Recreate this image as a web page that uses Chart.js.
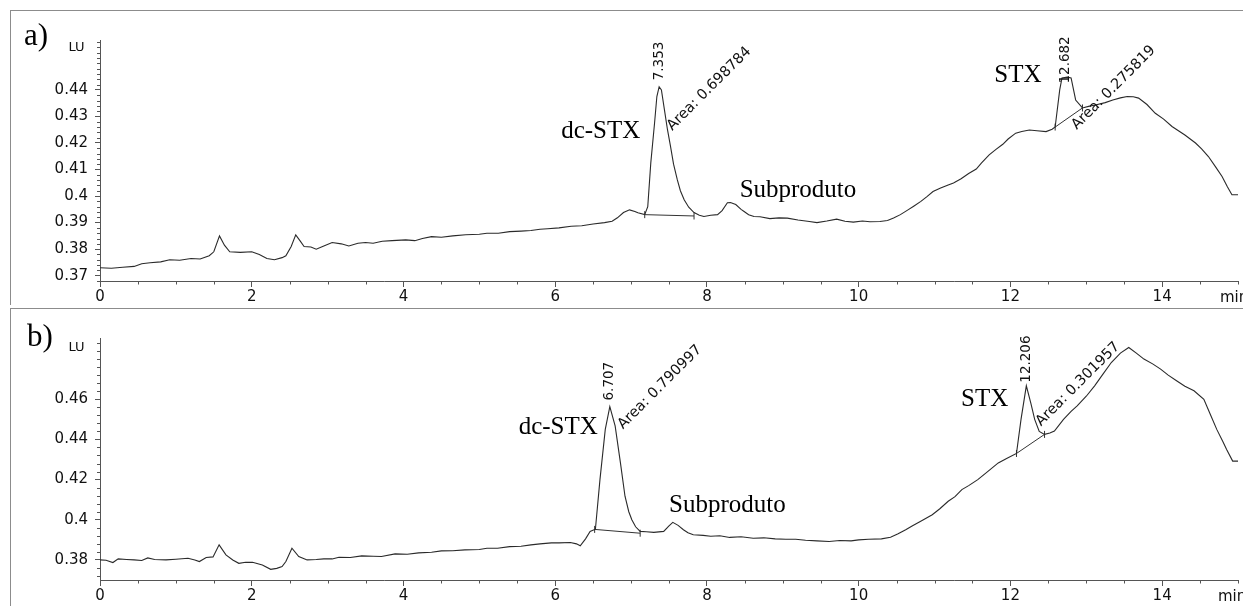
<!DOCTYPE html>
<html><head><meta charset="utf-8">
<script src="https://cdn.jsdelivr.net/npm/chart.js@4.4.1/dist/chart.umd.min.js"></script>
<style>
html,body{margin:0;padding:0;background:#fff;width:1243px;height:606px;overflow:hidden;}
.frame{position:absolute;left:10px;width:1240px;border-left:1px solid #8c8c8c;border-top:1px solid #8c8c8c;}
#frameA{top:10px;height:294px;}
#frameB{top:308px;height:300px;}
canvas{position:absolute;left:0;}
#cA{top:0;}
#cB{top:309px;}
</style></head>
<body>
<div id="frameA" class="frame"></div>
<div id="frameB" class="frame"></div>
<canvas id="cA" width="1243" height="305"></canvas>
<canvas id="cB" width="1243" height="297"></canvas>
<script>
// ---------- data ----------
const xTickLabels = ['0','2','4','6','8','10','12','14'];
const yTickLabelsA = ['0.37','0.38','0.39','0.4','0.41','0.42','0.43','0.44'];
const yTickLabelsB = ['0.38','0.4','0.42','0.44','0.46'];

// chromatogram a)
const timeA = [0.00,0.15,0.30,0.45,0.55,0.66,0.80,0.92,1.05,1.20,1.32,1.44,1.50,1.575,1.64,1.71,1.85,2.00,2.10,2.20,2.30,2.40,2.45,2.52,2.58,2.64,2.69,2.78,2.85,2.95,3.06,3.18,3.28,3.40,3.50,3.60,3.72,3.85,4.03,4.15,4.25,4.37,4.50,4.65,4.82,5.00,5.10,5.25,5.40,5.55,5.68,5.80,5.90,6.05,6.21,6.35,6.50,6.65,6.75,6.82,6.90,6.98,7.05,7.09,7.18,7.22,7.26,7.31,7.34,7.37,7.40,7.44,7.48,7.52,7.56,7.61,7.65,7.70,7.76,7.83,7.90,7.96,8.05,8.14,8.20,8.27,8.31,8.38,8.45,8.49,8.55,8.62,8.70,8.83,8.95,9.06,9.20,9.35,9.45,9.58,9.71,9.82,9.93,10.05,10.15,10.28,10.38,10.46,10.55,10.65,10.72,10.82,10.90,10.98,11.08,11.18,11.25,11.35,11.45,11.55,11.62,11.72,11.81,11.90,11.97,12.07,12.15,12.25,12.35,12.47,12.55,12.59,12.65,12.68,12.75,12.80,12.86,12.95,13.03,13.12,13.25,13.35,13.45,13.54,13.62,13.69,13.80,13.91,14.02,14.13,14.30,14.44,14.52,14.61,14.70,14.79,14.86,14.92,15.00];
const lumA = [0.3730,0.3728,0.3732,0.3735,0.3745,0.3749,0.3752,0.3760,0.3758,0.3765,0.3763,0.3775,0.3790,0.3850,0.3815,0.3790,0.3788,0.3790,0.3780,0.3765,0.3760,0.3768,0.3775,0.3810,0.3854,0.3830,0.3810,0.3808,0.3800,0.3812,0.3825,0.3820,0.3812,0.3822,0.3825,0.3822,0.3830,0.3832,0.3835,0.3832,0.3840,0.3847,0.3845,0.3850,0.3854,0.3856,0.3860,0.3860,0.3866,0.3868,0.3870,0.3875,0.3877,0.3880,0.3886,0.3888,0.3895,0.3900,0.3905,0.3918,0.3938,0.3948,0.3942,0.3937,0.3930,0.3960,0.4125,0.4276,0.4375,0.4412,0.4400,0.4325,0.4250,0.4187,0.4120,0.4061,0.4020,0.3986,0.3958,0.3938,0.3928,0.3923,0.3928,0.3930,0.3945,0.3975,0.3976,0.3968,0.3950,0.3942,0.3930,0.3923,0.3922,0.3915,0.3918,0.3917,0.3910,0.3904,0.3900,0.3906,0.3913,0.3905,0.3902,0.3906,0.3903,0.3904,0.3908,0.3917,0.3930,0.3948,0.3961,0.3980,0.3998,0.4017,0.4030,0.4042,0.4049,0.4065,0.4085,0.4102,0.4125,0.4155,0.4176,0.4195,0.4215,0.4237,0.4243,0.4249,0.4246,0.4243,0.4252,0.4260,0.4400,0.4445,0.4448,0.4445,0.4362,0.4332,0.4338,0.4343,0.4352,0.4362,0.4370,0.4375,0.4374,0.4369,0.4345,0.4312,0.4290,0.4262,0.4230,0.4200,0.4178,0.4149,0.4112,0.4074,0.4035,0.4005,0.4005];

// chromatogram b)
const timeB = [0.00,0.08,0.17,0.24,0.35,0.45,0.55,0.63,0.72,0.87,1.00,1.16,1.25,1.31,1.40,1.49,1.57,1.66,1.75,1.83,1.92,2.01,2.14,2.25,2.33,2.40,2.45,2.53,2.62,2.73,2.85,2.95,3.06,3.15,3.30,3.45,3.60,3.71,3.89,4.05,4.20,4.37,4.50,4.65,4.81,5.00,5.10,5.24,5.40,5.55,5.68,5.80,5.95,6.05,6.20,6.28,6.33,6.40,6.46,6.53,6.59,6.66,6.72,6.79,6.86,6.92,6.97,7.01,7.06,7.12,7.20,7.30,7.43,7.50,7.55,7.62,7.69,7.75,7.82,7.95,8.05,8.17,8.30,8.45,8.61,8.75,8.90,9.04,9.17,9.30,9.45,9.61,9.75,9.90,10.00,10.13,10.30,10.42,10.52,10.62,10.71,10.83,10.97,11.07,11.18,11.27,11.36,11.45,11.57,11.70,11.84,11.95,12.08,12.14,12.21,12.27,12.32,12.38,12.45,12.52,12.58,12.70,12.80,12.88,13.00,13.11,13.22,13.33,13.45,13.56,13.66,13.76,13.88,13.98,14.08,14.19,14.30,14.42,14.55,14.64,14.72,14.80,14.85,14.93,15.00];
const lumB = [0.3800,0.3798,0.3787,0.3805,0.3802,0.3800,0.3797,0.3810,0.3802,0.3800,0.3803,0.3808,0.3800,0.3792,0.3812,0.3815,0.3875,0.3825,0.3800,0.3783,0.3788,0.3788,0.3775,0.3753,0.3758,0.3767,0.3792,0.3858,0.3817,0.3800,0.3802,0.3805,0.3805,0.3813,0.3812,0.3820,0.3818,0.3817,0.3830,0.3828,0.3835,0.3838,0.3845,0.3846,0.3850,0.3852,0.3858,0.3858,0.3866,0.3868,0.3875,0.3880,0.3885,0.3885,0.3887,0.3880,0.3870,0.3905,0.3942,0.3953,0.4200,0.4450,0.4563,0.4467,0.4283,0.4117,0.4040,0.4000,0.3965,0.3942,0.3940,0.3937,0.3942,0.3970,0.3987,0.3972,0.3950,0.3935,0.3925,0.3922,0.3918,0.3920,0.3912,0.3915,0.3908,0.3910,0.3905,0.3903,0.3903,0.3898,0.3895,0.3892,0.3897,0.3895,0.3900,0.3903,0.3905,0.3913,0.3930,0.3950,0.3970,0.3995,0.4025,0.4055,0.4092,0.4115,0.4150,0.4170,0.4200,0.4240,0.4283,0.4305,0.4330,0.4500,0.4667,0.4580,0.4500,0.4440,0.4425,0.4432,0.4442,0.4500,0.4540,0.4567,0.4615,0.4667,0.4725,0.4783,0.4830,0.4858,0.4830,0.4800,0.4775,0.4750,0.4720,0.4692,0.4665,0.4642,0.4600,0.4520,0.4450,0.4390,0.4350,0.4292,0.4292];

// integration baselines (start, end)
const baseDcA_t = [7.18, 7.83], baseDcA_v = [0.3930, 0.3925];
const baseStxA_t = [12.59, 12.95], baseStxA_v = [0.4260, 0.4332];
const baseDcB_t = [6.52, 7.12], baseDcB_v = [0.3952, 0.3933];
const baseStxB_t = [12.08, 12.45], baseStxB_v = [0.4330, 0.4425];

// peak labels
const peakNamesA = ['dc-STX','Subproduto','STX'];
const peakRtA = ['7.353','12.682'];
const peakAreaA = ['Area: 0.698784','Area: 0.275819'];
const peakNamesB = ['dc-STX','Subproduto','STX'];
const peakRtB = ['6.707','12.206'];
const peakAreaB = ['Area: 0.790997','Area: 0.301957'];

// ---------- helpers ----------
const pts = (ts, vs) => ts.map((t, i) => ({x: t, y: vs[i]}));
const SERIF = '"Liberation Serif", "Times New Roman", serif';
const SANS = '"DejaVu Sans", sans-serif';
const AX = '#555';

const drawPlugin = {
  id: 'chromo',
  afterDraw(chart, args, o) {
    const {ctx} = chart;
    const x = chart.scales.x, y = chart.scales.y;
    ctx.save();
    ctx.strokeStyle = AX; ctx.lineWidth = 1;
    ctx.beginPath();
    const majX = xTickLabels.map(Number);
    for (let k = 0; k * 0.5 <= x.max + 1e-9; k++) {
      const t = k * 0.5;
      if (majX.some(m => Math.abs(m - t) < 1e-9)) continue;
      const px = Math.round(x.getPixelForValue(t)) + 0.5;
      ctx.moveTo(px, y.bottom); ctx.lineTo(px, y.bottom + 3.5);
    }
    const majY = o.yMajors.map(Number);
    for (let k = 0; ; k++) {
      const v = o.yMinorStart + k * o.yMinorStep;
      if (v > y.max + 1e-9) break;
      if (v < y.min - 1e-9) continue;
      if (majY.some(m => Math.abs(m - v) < 1e-7)) continue;
      const py = Math.round(y.getPixelForValue(v)) + 0.5;
      ctx.moveTo(x.left - 3, py); ctx.lineTo(x.left, py);
    }
    ctx.stroke();
    for (const a of o.texts) {
      ctx.save();
      ctx.translate(x.getPixelForValue(a.t), y.getPixelForValue(a.v));
      ctx.rotate((a.rot || 0) * Math.PI / 180);
      ctx.font = a.font; ctx.fillStyle = a.color || '#111';
      ctx.textAlign = 'center'; ctx.textBaseline = 'middle';
      ctx.fillText(a.text, 0, 0);
      ctx.restore();
    }
    for (const a of o.fixed) {
      ctx.font = a.font; ctx.fillStyle = a.color || '#111';
      ctx.textAlign = a.align || 'center'; ctx.textBaseline = 'middle';
      ctx.fillText(a.text, a.px, a.py);
    }
    ctx.restore();
  }
};

function baseDs(ts, vs) {
  return {data: pts(ts, vs), borderColor: '#333', borderWidth: 1, pointStyle: 'line',
          pointRotation: 90, pointRadius: 3.5, pointBorderColor: '#333', pointBorderWidth: 1,
          tension: 0, fill: false};
}

function makeChart(id, c) {
  return new Chart(document.getElementById(id), {
    type: 'line',
    data: {datasets: [
      {data: pts(c.t, c.v), borderColor: '#2a2a2a', borderWidth: 1.1, pointRadius: 0, tension: 0, fill: false},
      ...c.bases.map(b => baseDs(b[0], b[1]))
    ]},
    options: {
      responsive: false, animation: false, devicePixelRatio: 1,
      layout: {padding: {top: c.padTop, right: 0, left: 0, bottom: 0}},
      plugins: {legend: {display: false}, tooltip: {enabled: false},
        chromo: {yMajors: c.yLabels, yMinorStart: c.minorStart, yMinorStep: c.minorStep,
                 texts: c.texts, fixed: c.fixed}},
      scales: {
        x: {type: 'linear', min: 0, max: 15,
          afterBuildTicks: s => { s.ticks = xTickLabels.map(l => ({value: Number(l)})); },
          afterFit: s => { s.height = c.xH; },
          grid: {display: true, drawOnChartArea: false, drawTicks: true, tickLength: 6, color: AX},
          border: {display: true, color: AX, width: 1},
          ticks: {font: {family: SANS, size: 15}, color: '#111', padding: 1, maxRotation: 0, autoSkip: false,
                  callback: (v, i) => xTickLabels[i]}
        },
        y: {type: 'linear', min: c.ymin, max: c.ymax,
          afterBuildTicks: s => { s.ticks = c.yLabels.map(l => ({value: Number(l)})); },
          afterFit: s => { s.width = 100; },
          grid: {display: true, drawOnChartArea: false, drawTicks: true, tickLength: 5, color: AX},
          border: {display: true, color: AX, width: 1},
          ticks: {font: {family: SANS, size: 15}, color: '#111', padding: 7, autoSkip: false,
                  callback: (v, i) => c.yLabels[i]}
        }
      }
    },
    plugins: [drawPlugin]
  });
}

const fRT = '13.5px ' + SANS, fAR = '14.5px ' + SANS, fNM = '25px ' + SERIF;

makeChart('cA', {
  t: timeA, v: lumA, ymin: 0.368, ymax: 0.4588, yLabels: yTickLabelsA,
  minorStart: 0.368, minorStep: 0.002, padTop: 40, xH: 24,
  bases: [[baseDcA_t, baseDcA_v], [baseStxA_t, baseStxA_v]],
  texts: [
    {text: peakNamesA[0], t: 6.60, v: 0.4242, font: fNM, color: '#000'},
    {text: peakNamesA[1], t: 9.20, v: 0.4022, font: fNM, color: '#000'},
    {text: peakNamesA[2], t: 12.10, v: 0.4455, font: fNM, color: '#000'},
    {text: peakRtA[0], t: 7.375, v: 0.4509, font: fRT, rot: -90},
    {text: peakRtA[1], t: 12.73, v: 0.4513, font: fRT, rot: -90},
    {text: peakAreaA[0], t: 8.03, v: 0.4404, font: fAR, rot: -45},
    {text: peakAreaA[1], t: 13.36, v: 0.4408, font: fAR, rot: -45}
  ],
  fixed: [
    {text: 'a)', px: 36, py: 37, font: '31px ' + SERIF, color: '#000'},
    {text: 'LU', px: 76.5, py: 48, font: '13px ' + SANS},
    {text: 'min', px: 1220, py: 298, font: '15px ' + SANS, align: 'left'}
  ]
});

makeChart('cB', {
  t: timeB, v: lumB, ymin: 0.37, ymax: 0.4905, yLabels: yTickLabelsB,
  minorStart: 0.372, minorStep: 0.004, padTop: 29, xH: 26,
  bases: [[baseDcB_t, baseDcB_v], [baseStxB_t, baseStxB_v]],
  texts: [
    {text: peakNamesB[0], t: 6.04, v: 0.4460, font: fNM, color: '#000'},
    {text: peakNamesB[1], t: 8.27, v: 0.4073, font: fNM, color: '#000'},
    {text: peakNamesB[2], t: 11.66, v: 0.4600, font: fNM, color: '#000'},
    {text: peakRtB[0], t: 6.72, v: 0.4690, font: fRT, rot: -90},
    {text: peakRtB[1], t: 12.21, v: 0.4800, font: fRT, rot: -90},
    {text: peakAreaB[0], t: 7.38, v: 0.4660, font: fAR, rot: -45},
    {text: peakAreaB[1], t: 12.89, v: 0.4675, font: fAR, rot: -45}
  ],
  fixed: [
    {text: 'b)', px: 40, py: 29, font: '31px ' + SERIF, color: '#000'},
    {text: 'LU', px: 76.5, py: 38.5, font: '13px ' + SANS},
    {text: 'min', px: 1218, py: 288, font: '15px ' + SANS, align: 'left'}
  ]
});
</script>
</body></html>
